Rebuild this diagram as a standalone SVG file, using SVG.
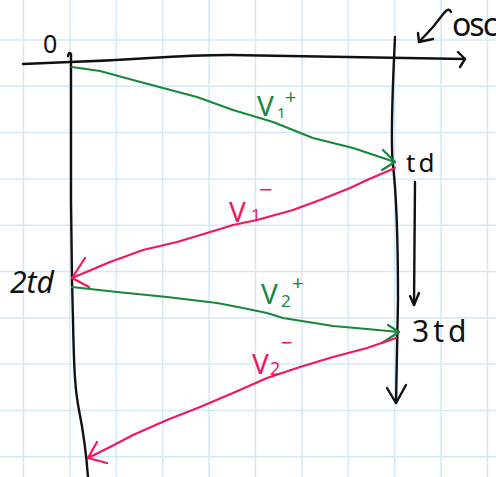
<svg xmlns="http://www.w3.org/2000/svg" width="496" height="477" viewBox="0 0 496 477">
<style>
.grid line{stroke:#d3e8f8;stroke-width:1.5}
.ink{fill:none;stroke:#111;stroke-width:2.4;stroke-linecap:round;stroke-linejoin:round}
.g{fill:none;stroke:#17883b;stroke-width:2.2;stroke-linecap:round;stroke-linejoin:round}
.p{fill:none;stroke:#f5145f;stroke-width:2.2;stroke-linecap:round;stroke-linejoin:round}
text{font-family:"Noto Sans","DejaVu Sans",sans-serif}
.tb{fill:#111}
.tg{fill:#17883b}
.tp{fill:#f5145f}
</style>
<rect width="496" height="477" fill="#fff"/>
<g class="grid" id="grid">
<line x1="23.5" y1="0" x2="23.5" y2="477"/><line x1="69.9" y1="0" x2="69.9" y2="477"/><line x1="116.3" y1="0" x2="116.3" y2="477"/><line x1="162.7" y1="0" x2="162.7" y2="477"/><line x1="209.1" y1="0" x2="209.1" y2="477"/><line x1="255.5" y1="0" x2="255.5" y2="477"/><line x1="301.9" y1="0" x2="301.9" y2="477"/><line x1="348.3" y1="0" x2="348.3" y2="477"/><line x1="394.7" y1="0" x2="394.7" y2="477"/><line x1="441.1" y1="0" x2="441.1" y2="477"/><line x1="487.5" y1="0" x2="487.5" y2="477"/>
<line x1="0" y1="40" x2="496" y2="40"/><line x1="0" y1="86.3" x2="496" y2="86.3"/><line x1="0" y1="132.6" x2="496" y2="132.6"/><line x1="0" y1="178.9" x2="496" y2="178.9"/><line x1="0" y1="225.2" x2="496" y2="225.2"/><line x1="0" y1="271.5" x2="496" y2="271.5"/><line x1="0" y1="317.8" x2="496" y2="317.8"/><line x1="0" y1="364.1" x2="496" y2="364.1"/><line x1="0" y1="410.4" x2="496" y2="410.4"/><line x1="0" y1="456.7" x2="496" y2="456.7"/>
</g>
<g id="axis-x">
<path class="ink" d="M23,64 L70,62 C100,61 120,60 150,58 C180,56 200,55 230,55 C300,56 380,57 465,59"/>
<path class="ink" d="M458,52 L465,59 L460,67"/>
</g>
<g id="line-left">
<path class="ink" d="M68,56 Q69,51 71,54 L71,200 L72,280 L73,320 C74,370 75,390 79,410 C83,430 86,450 88,477"/>
</g>
<g id="line-right">
<path class="ink" d="M395,37 C393,80 390,140 393,165 C397,200 398,250 398,300 L396,403"/>
<path class="ink" d="M387,388 L396,403 L406,385"/>
</g>
<g id="time-arrow">
<path class="ink" d="M415,182 L414,305"/>
<path class="ink" d="M410,296 L414,305 L419,293"/>
</g>
<g id="osc-pointer">
<path class="ink" d="M451,12 Q449,7 444,13 L433,27 L419,42"/>
<path class="ink" d="M418,33 L419,42 L433,39"/>
</g>
<g id="connectors">
<g id="v1-plus">
<path class="g" d="M72,67 L100,71 L133,80 L163,88 L197,97 L233,110 L273,122 L313,138 L353,148 L395,162"/>
<path class="g" d="M383,150 L395,162 L382,170"/>
</g>
<g id="v1-minus">
<path class="p" d="M395,168 L367,180 L350,188 L320,200 L293,210 L257,220 L233,225 L207,233 L177,242 L143,250 L110,262 L72,278"/>
<path class="p" d="M85,258 L72,278 L89,287"/>
</g>
<g id="v2-plus">
<path class="g" d="M72,287 L117,292 L167,297 L217,303 L243,308 L267,313 L283,318 L333,326 L367,329 L399,332"/>
<path class="g" d="M388,325 L399,332 L382,343"/>
</g>
<g id="v2-minus">
<path class="p" d="M396,338 L367,348 L333,357 L300,367 L267,378 L233,393 L200,407 L167,420 L133,435 L110,447 L88,458"/>
<path class="p" d="M97,442 L88,458 L107,463"/>
</g>
</g>
<g id="labels">
<text class="tb" x="43" y="53" font-size="25">0</text>
<text class="tb" x="452" y="36" font-size="32" letter-spacing="-2">osc</text>
<text class="tb" x="406" y="172" font-size="26" letter-spacing="3">td</text>
<text class="tb" x="10" y="293" font-size="30" font-style="italic">2td</text>
<text class="tb" x="412" y="342" font-size="30" letter-spacing="4">3td</text>
<text class="tg" x="257" y="116" font-size="28">V<tspan x="277" y="118" font-size="15">1</tspan><tspan x="285" y="104" font-size="20">+</tspan></text>
<text class="tp" x="229" y="222" font-size="28">V<tspan x="251" y="221" font-size="17">1</tspan><tspan x="259" y="198" font-size="24">−</tspan></text>
<text class="tg" x="261" y="304" font-size="28">V<tspan x="281" y="307" font-size="17">2</tspan><tspan x="292" y="290" font-size="20">+</tspan></text>
<text class="tp" x="252" y="374" font-size="28">V<tspan x="270" y="375" font-size="18">2</tspan><tspan x="281" y="350" font-size="20">−</tspan></text>
</g>
</svg>
